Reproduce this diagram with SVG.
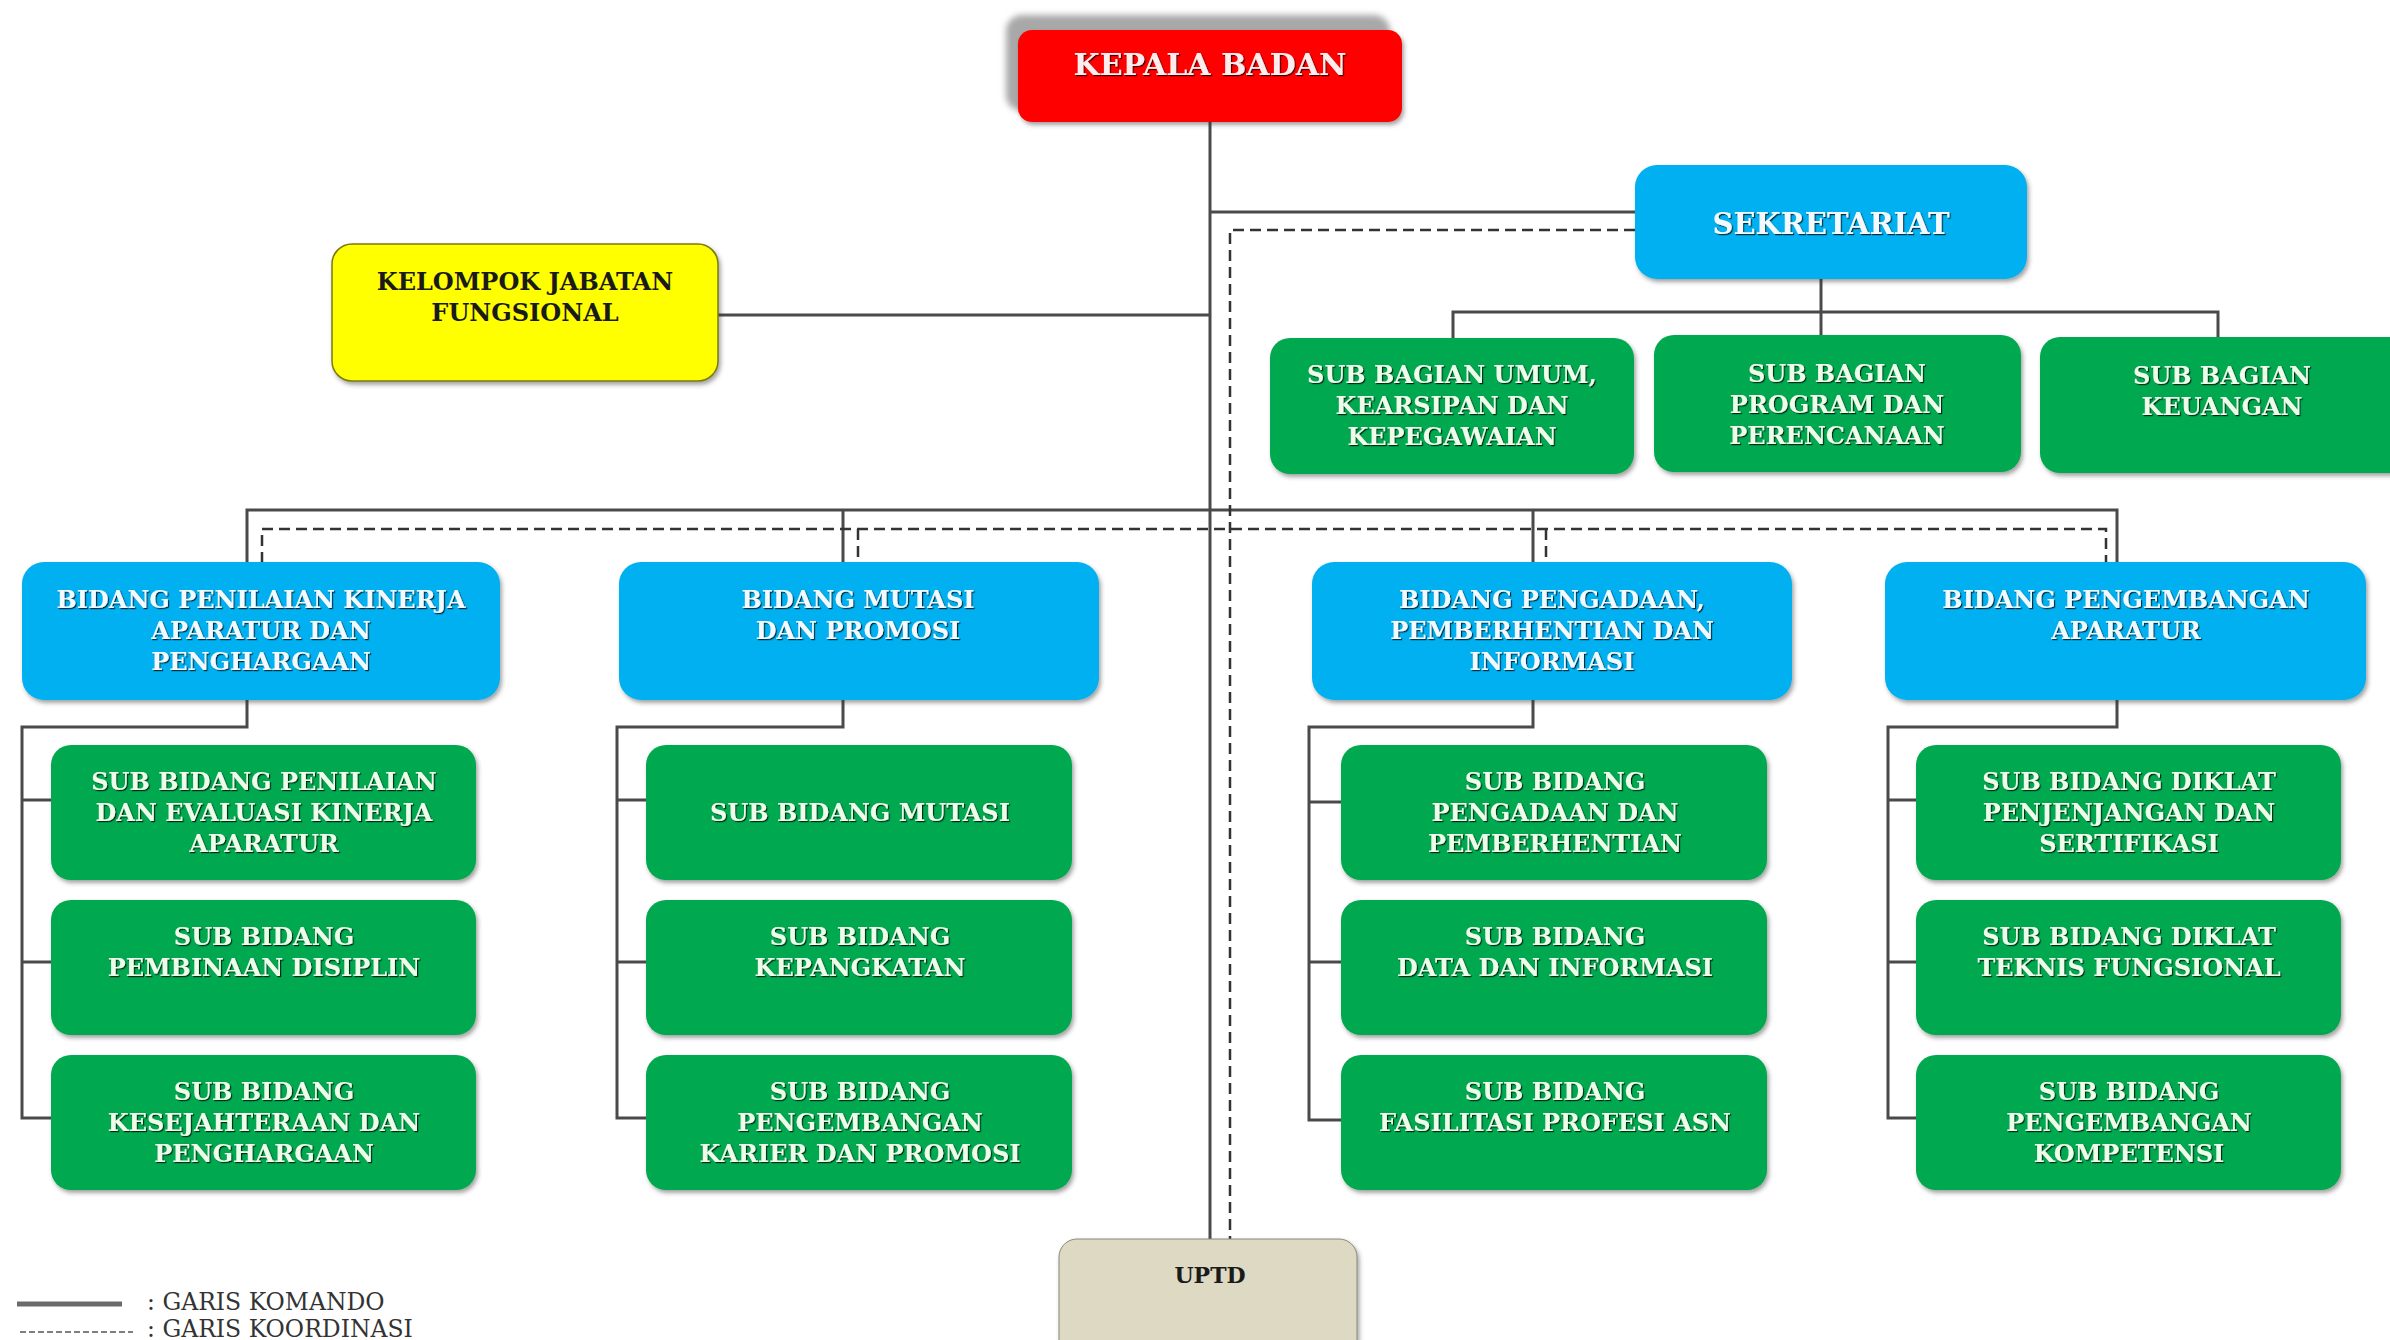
<svg xmlns="http://www.w3.org/2000/svg" width="2390" height="1340" viewBox="0 0 2390 1340">
<style>
.t{font-family:"DejaVu Serif","Liberation Serif",serif;font-weight:bold;text-anchor:middle;font-size:24px;fill:#eefcea;filter:url(#ts)}
.tb{fill:#f2faff}
.tk{fill:#ffecec;font-size:30px}
.ts{font-size:29px}
.dark{fill:#1a1a1a;filter:none}
.cmd{stroke:#4a4a4a;stroke-width:3;fill:none}
.coord{stroke:#333;stroke-width:2.5;stroke-dasharray:11 6;fill:none}
.red{fill:#ff0000}
.blue{fill:#00b0f0}
.green{fill:#00a84f}
.yellow{fill:#ffff00;stroke:#7a7a10;stroke-width:1.5}
.beige{fill:#ddd9c3;stroke:#8a8878;stroke-width:1}
.leg{font-family:"DejaVu Serif","Liberation Serif",serif;font-size:23.5px;fill:#333}
</style>
<defs>
<filter id="bs" x="-10%" y="-10%" width="125%" height="130%"><feDropShadow dx="2" dy="3" stdDeviation="2" flood-color="#333" flood-opacity="0.45"/></filter>
<filter id="ts" x="-5%" y="-20%" width="110%" height="150%"><feDropShadow dx="1.2" dy="1.2" stdDeviation="0.6" flood-color="#000" flood-opacity="0.75"/></filter>
<filter id="blur"><feGaussianBlur stdDeviation="3"/></filter>
</defs>
<rect width="2390" height="1340" fill="#fff"/>

<g id="connectors">
<path class="cmd" d="M1210 122V1239"/>
<path class="cmd" d="M718 315H1210"/>
<path class="cmd" d="M1210 212H1635"/>
<path class="cmd" d="M1821 279V335"/>
<path class="cmd" d="M1453 338V312H2218V337"/>
<path class="cmd" d="M247 562V510H2117V562M843 510V562M1533 510V562"/>
<path class="cmd" d="M247 700V727H22V1118H52M22 800H52M22 962H52"/>
<path class="cmd" d="M843 700V727H617V1118H646M617 800H646M617 962H646"/>
<path class="cmd" d="M1533 700V727H1309V1120H1341M1309 802H1341M1309 962H1341"/>
<path class="cmd" d="M2117 700V727H1888V1118H1916M1888 800H1916M1888 962H1916"/>
<path class="coord" d="M1635 230H1230V1239"/>
<path class="coord" d="M262 563V529H2106V563M858 529V563M1546 529V563"/>
</g>

<g id="kepala-badan">
<rect x="1006" y="15" width="384" height="96" rx="16" fill="#a8a8a8" filter="url(#blur)"/>
<rect class="red" x="1018" y="30" width="384" height="92" rx="14" filter="url(#bs)"/>
<text class="t tk" x="1210" y="75">KEPALA BADAN</text>
</g>

<g id="kelompok-jabatan-fungsional">
<rect class="yellow" x="332" y="244" width="386" height="137" rx="20" filter="url(#bs)"/>
<text class="t dark" x="525" y="290">KELOMPOK JABATAN</text>
<text class="t dark" x="525" y="321">FUNGSIONAL</text>
</g>

<g id="sekretariat">
<rect class="blue" x="1635" y="165" width="392" height="114" rx="22" filter="url(#bs)"/>
<text class="t tb ts" x="1831" y="234">SEKRETARIAT</text>
</g>

<g id="sub-bagian-umum">
<rect class="green" x="1270" y="338" width="364" height="136" rx="20" filter="url(#bs)"/>
<text class="t" x="1452" y="383">SUB BAGIAN UMUM,</text>
<text class="t" x="1452" y="414">KEARSIPAN DAN</text>
<text class="t" x="1452" y="445">KEPEGAWAIAN</text>
</g>
<g id="sub-bagian-program">
<rect class="green" x="1654" y="335" width="367" height="137" rx="20" filter="url(#bs)"/>
<text class="t" x="1837" y="382">SUB BAGIAN</text>
<text class="t" x="1837" y="413">PROGRAM DAN</text>
<text class="t" x="1837" y="444">PERENCANAAN</text>
</g>
<g id="sub-bagian-keuangan">
<rect class="green" x="2040" y="337" width="370" height="136" rx="20" filter="url(#bs)"/>
<text class="t" x="2222" y="384">SUB BAGIAN</text>
<text class="t" x="2222" y="415">KEUANGAN</text>
</g>

<g id="bidang-penilaian">
<rect class="blue" x="22" y="562" width="478" height="138" rx="22" filter="url(#bs)"/>
<text class="t tb" x="261" y="608">BIDANG PENILAIAN KINERJA</text>
<text class="t tb" x="261" y="639">APARATUR DAN</text>
<text class="t tb" x="261" y="670">PENGHARGAAN</text>
</g>
<g id="bidang-mutasi">
<rect class="blue" x="619" y="562" width="480" height="138" rx="22" filter="url(#bs)"/>
<text class="t tb" x="858" y="608">BIDANG MUTASI</text>
<text class="t tb" x="858" y="639">DAN PROMOSI</text>
</g>
<g id="bidang-pengadaan">
<rect class="blue" x="1312" y="562" width="480" height="138" rx="22" filter="url(#bs)"/>
<text class="t tb" x="1552" y="608">BIDANG PENGADAAN,</text>
<text class="t tb" x="1552" y="639">PEMBERHENTIAN DAN</text>
<text class="t tb" x="1552" y="670">INFORMASI</text>
</g>
<g id="bidang-pengembangan">
<rect class="blue" x="1885" y="562" width="481" height="138" rx="22" filter="url(#bs)"/>
<text class="t tb" x="2126" y="608">BIDANG PENGEMBANGAN</text>
<text class="t tb" x="2126" y="639">APARATUR</text>
</g>

<g id="sub-penilaian-evaluasi">
<rect class="green" x="51" y="745" width="425" height="135" rx="20" filter="url(#bs)"/>
<text class="t" x="264" y="790">SUB BIDANG PENILAIAN</text>
<text class="t" x="264" y="821">DAN EVALUASI KINERJA</text>
<text class="t" x="264" y="852">APARATUR</text>
</g>
<g id="sub-pembinaan-disiplin">
<rect class="green" x="51" y="900" width="425" height="135" rx="20" filter="url(#bs)"/>
<text class="t" x="264" y="945">SUB BIDANG</text>
<text class="t" x="264" y="976">PEMBINAAN DISIPLIN</text>
</g>
<g id="sub-kesejahteraan">
<rect class="green" x="51" y="1055" width="425" height="135" rx="20" filter="url(#bs)"/>
<text class="t" x="264" y="1100">SUB BIDANG</text>
<text class="t" x="264" y="1131">KESEJAHTERAAN DAN</text>
<text class="t" x="264" y="1162">PENGHARGAAN</text>
</g>

<g id="sub-mutasi">
<rect class="green" x="646" y="745" width="426" height="135" rx="20" filter="url(#bs)"/>
<text class="t" x="860" y="821">SUB BIDANG MUTASI</text>
</g>
<g id="sub-kepangkatan">
<rect class="green" x="646" y="900" width="426" height="135" rx="20" filter="url(#bs)"/>
<text class="t" x="860" y="945">SUB BIDANG</text>
<text class="t" x="860" y="976">KEPANGKATAN</text>
</g>
<g id="sub-pengembangan-karier">
<rect class="green" x="646" y="1055" width="426" height="135" rx="20" filter="url(#bs)"/>
<text class="t" x="860" y="1100">SUB BIDANG</text>
<text class="t" x="860" y="1131">PENGEMBANGAN</text>
<text class="t" x="860" y="1162">KARIER DAN PROMOSI</text>
</g>

<g id="sub-pengadaan-pemberhentian">
<rect class="green" x="1341" y="745" width="426" height="135" rx="20" filter="url(#bs)"/>
<text class="t" x="1555" y="790">SUB BIDANG</text>
<text class="t" x="1555" y="821">PENGADAAN DAN</text>
<text class="t" x="1555" y="852">PEMBERHENTIAN</text>
</g>
<g id="sub-data-informasi">
<rect class="green" x="1341" y="900" width="426" height="135" rx="20" filter="url(#bs)"/>
<text class="t" x="1555" y="945">SUB BIDANG</text>
<text class="t" x="1555" y="976">DATA DAN INFORMASI</text>
</g>
<g id="sub-fasilitasi-profesi">
<rect class="green" x="1341" y="1055" width="426" height="135" rx="20" filter="url(#bs)"/>
<text class="t" x="1555" y="1100">SUB BIDANG</text>
<text class="t" x="1555" y="1131">FASILITASI PROFESI ASN</text>
</g>

<g id="sub-diklat-penjenjangan">
<rect class="green" x="1916" y="745" width="425" height="135" rx="20" filter="url(#bs)"/>
<text class="t" x="2129" y="790">SUB BIDANG DIKLAT</text>
<text class="t" x="2129" y="821">PENJENJANGAN DAN</text>
<text class="t" x="2129" y="852">SERTIFIKASI</text>
</g>
<g id="sub-diklat-teknis">
<rect class="green" x="1916" y="900" width="425" height="135" rx="20" filter="url(#bs)"/>
<text class="t" x="2129" y="945">SUB BIDANG DIKLAT</text>
<text class="t" x="2129" y="976">TEKNIS FUNGSIONAL</text>
</g>
<g id="sub-pengembangan-kompetensi">
<rect class="green" x="1916" y="1055" width="425" height="135" rx="20" filter="url(#bs)"/>
<text class="t" x="2129" y="1100">SUB BIDANG</text>
<text class="t" x="2129" y="1131">PENGEMBANGAN</text>
<text class="t" x="2129" y="1162">KOMPETENSI</text>
</g>

<g id="uptd">
<rect class="beige" x="1059" y="1239" width="298" height="120" rx="18" filter="url(#bs)"/>
<text class="t dark" x="1210" y="1283" style="font-size:22px">UPTD</text>
</g>

<g id="legend">
<line x1="17" y1="1304" x2="122" y2="1304" stroke="#6a6a6a" stroke-width="5"/>
<text class="leg" x="147" y="1310">: GARIS KOMANDO</text>
<line x1="20" y1="1332" x2="133" y2="1332" stroke="#555" stroke-width="1.5" stroke-dasharray="6 3"/>
<text class="leg" x="147" y="1337">: GARIS KOORDINASI</text>
</g>
</svg>
